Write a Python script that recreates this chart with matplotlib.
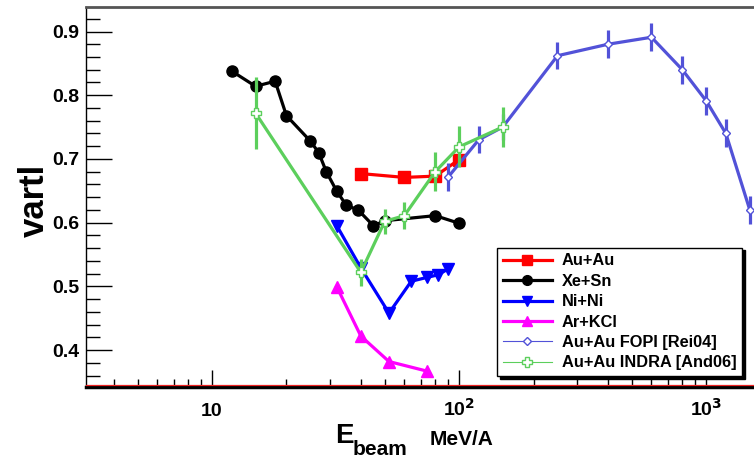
import matplotlib
matplotlib.use("Agg")
import matplotlib.pyplot as plt
from matplotlib.lines import Line2D
from matplotlib.ticker import FixedLocator, FuncFormatter, NullFormatter, MultipleLocator

plt.rcParams['font.family'] = ['Liberation Sans', 'DejaVu Sans']
plt.rcParams['font.weight'] = 'bold'

# beam energy (MeV/A) and vartl for each system
auau_e = [40, 60, 80, 100]
auau_v = [0.677, 0.671, 0.673, 0.699]

xesn_e = [12, 15, 18, 20, 25, 27, 29, 32, 35, 39, 45, 50, 80, 100]
xesn_v = [0.838, 0.814, 0.822, 0.768, 0.728, 0.710, 0.680, 0.649, 0.627, 0.620, 0.595, 0.603, 0.611, 0.599]

nini_e = [32, 40, 52, 64, 74, 82, 90]
nini_v = [0.595, 0.529, 0.458, 0.508, 0.514, 0.518, 0.527]

arkcl_e = [32, 40, 52, 74]
arkcl_v = [0.499, 0.422, 0.382, 0.367]

fopi_e = [90, 120, 150, 250, 400, 600, 800, 1000, 1200, 1500]
fopi_v = [0.671, 0.730, 0.750, 0.862, 0.880, 0.891, 0.840, 0.791, 0.740, 0.620]
fopi_err = [0.022, 0.021, 0.021, 0.021, 0.022, 0.022, 0.022, 0.022, 0.022, 0.022]

indra_e = [15, 40, 50, 60, 80, 100, 150]
indra_v = [0.772, 0.522, 0.602, 0.611, 0.680, 0.719, 0.750]
indra_err = [0.057, 0.021, 0.020, 0.021, 0.031, 0.032, 0.031]

c_fopi = '#5252d8'
c_indra = '#5ccf5c'

W, H = 754, 459
YMIN, YMAX = 0.3425, 0.938
fig = plt.figure(figsize=(W / 100, H / 100), dpi=100)
ax = fig.add_axes([86 / W, 1 - 386.7 / H, 1 - 86 / W, (386.7 - 7.3) / H])

ax.errorbar(fopi_e, fopi_v, yerr=fopi_err, color=c_fopi, lw=2.3, elinewidth=2.3, capsize=0,
            marker='D', ms=4, mfc='white', mec=c_fopi, mew=1, zorder=3)
ax.errorbar(indra_e, indra_v, yerr=indra_err, color=c_indra, lw=2.3, elinewidth=2.3, capsize=0,
            marker='P', ms=7, mfc='white', mec=c_indra, mew=1, zorder=4)
ax.plot(xesn_e, xesn_v, color='black', lw=2.3, marker='o', ms=8, zorder=2)
ax.plot(auau_e, auau_v, color='red', lw=2.3, marker='s', ms=8, zorder=2)
ax.plot(nini_e, nini_v, color='blue', lw=2.3, marker='v', ms=8, zorder=2)
ax.plot(arkcl_e, arkcl_v, color='magenta', lw=2.3, marker='^', ms=8, zorder=2)

ax.set_xscale('log')
ax.set_xlim(3.09, 1560)
ax.set_ylim(YMIN, YMAX)

ax.xaxis.set_major_locator(FixedLocator([10, 100, 1000]))
ax.xaxis.set_major_formatter(FuncFormatter(
    lambda v, p: {10: '10', 100: r'10$^{\mathbf{2}}$', 1000: r'10$^{\mathbf{3}}$'}.get(int(round(v)), '')))
minors = [m * d for d in (1, 10, 100) for m in range(2, 10)]
ax.xaxis.set_minor_locator(FixedLocator(minors))
ax.xaxis.set_minor_formatter(NullFormatter())
ax.yaxis.set_major_locator(MultipleLocator(0.1))
ax.yaxis.set_minor_locator(MultipleLocator(0.02))

ax.tick_params(axis='both', which='both', direction='in', top=False, right=False, labelsize=14)
ax.tick_params(axis='y', which='major', length=19, width=1, pad=5)
ax.tick_params(axis='y', which='minor', length=10, width=1)
ax.tick_params(axis='x', which='major', length=12, width=1, pad=21)
ax.tick_params(axis='x', which='minor', length=6, width=1)
for lab in ax.get_xticklabels():
    lab.set_verticalalignment('baseline')

ax.spines['right'].set_visible(False)
ax.spines['top'].set_color('#555555')
ax.spines['top'].set_linewidth(2)
ax.spines['left'].set_linewidth(1)
ax.spines['bottom'].set_linewidth(2.5)
# thin red line sitting on the x axis
ax.axhline(YMIN + 0.0028, color='#ee2222', lw=0.9, zorder=5, clip_on=False)

# y title
fig.text(18 / W, 1 - 200 / H, 'vartl', rotation=90, fontsize=25, fontweight='bold',
         ha='left', va='center')
# x title: E with subscript, then unit
fig.text(335 / W, 1 - 443 / H, 'E', fontsize=20, fontweight='bold', va='baseline')
fig.text(353 / W, 1 - 455 / H, 'beam', fontsize=15, fontweight='bold', va='baseline')
fig.text(430 / W, 1 - 445 / H, 'MeV/A', fontsize=15, fontweight='bold', va='baseline')

handles = [
    Line2D([], [], color='red', lw=2.3, marker='s', ms=7),
    Line2D([], [], color='black', lw=2.3, marker='o', ms=7),
    Line2D([], [], color='blue', lw=2.3, marker='v', ms=7),
    Line2D([], [], color='magenta', lw=2.3, marker='^', ms=7),
    Line2D([], [], color=c_fopi, lw=0.8, marker='D', ms=4, mfc='white', mew=1),
    Line2D([], [], color=c_indra, lw=0.8, marker='P', ms=7, mfc='white', mew=1),
]
labels = ['Au+Au', 'Xe+Sn', 'Ni+Ni', 'Ar+KCl', 'Au+Au FOPI [Rei04]', 'Au+Au INDRA [And06]']
leg = ax.legend(handles, labels, loc='lower left', bbox_to_anchor=(0.603, 0.006),
                fontsize=11.8, frameon=True, fancybox=False, edgecolor='black', framealpha=1,
                handlelength=3.0, handletextpad=0.6, labelspacing=0.33, borderpad=0.35,
                shadow={'color': 'black', 'alpha': 1, 'ox': 2, 'oy': -2})
leg.get_frame().set_linewidth(1)
for t in leg.get_texts():
    t.set_fontweight('bold')

fig.savefig('out.png', dpi=100)
